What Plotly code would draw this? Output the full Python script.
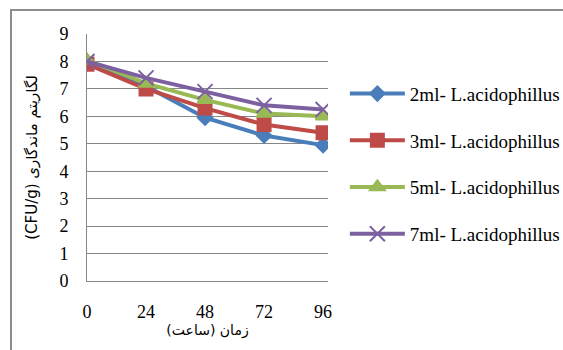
import plotly.graph_objects as go

hours = [0, 24, 48, 72, 96]
ml2 = [7.95, 7.1, 5.95, 5.3, 4.95]
ml3 = [7.9, 7.0, 6.3, 5.7, 5.4]
ml5 = [8.05, 7.2, 6.6, 6.1, 6.0]
ml7 = [8.0, 7.4, 6.9, 6.4, 6.25]
names = ["2ml- L.acidophillus", "3ml- L.acidophillus",
         "5ml- L.acidophillus", "7ml- L.acidophillus"]
yticks = list(range(0, 10))

series = [
    (ml2, "#4a7ebb", "diamond", 11),
    (ml3, "#be4b48", "square", 13),
    (ml5, "#98b954", "triangle-up", 13),
    (ml7, "#7d60a0", "x-thin-open", 15),
]

fig = go.Figure()
for i, ((vals, color, sym, size), name) in enumerate(zip(series, names)):
    fig.add_trace(go.Scatter(
        x=hours, y=vals, name=name, mode="lines+markers",
        legendgroup=f"g{i}",
        line=dict(color=color, width=4),
        marker=dict(symbol=sym, size=size, color=color,
                    line=dict(color=color, width=2)),
    ))

serif = "'Liberation Serif', 'DejaVu Serif', serif"
fa = "'DejaVu Sans', sans-serif"
fig.update_layout(
    width=563, height=350,
    margin=dict(l=87, r=235, t=34, b=69, autoexpand=False),
    paper_bgcolor="white", plot_bgcolor="white",
    font=dict(family=serif, color="black"),
    showlegend=True,
    legend=dict(x=1.07, xanchor="left", y=0.835, yanchor="top",
                font=dict(family=serif, size=19), itemwidth=55,
                tracegroupgap=19, bgcolor="rgba(0,0,0,0)"),
    xaxis=dict(range=[0, 98], tickvals=hours, ticktext=[str(h) for h in hours],
               showgrid=False, zeroline=False, showline=True,
               linecolor="#868686", linewidth=1,
               ticks="", ticklabelstandoff=14,
               tickfont=dict(family=serif, size=18),
               title=dict(text="زمان (ساعت)", standoff=2,
                          font=dict(family=fa, size=14))),
    yaxis=dict(range=[0, 9], tickvals=yticks,
               showgrid=True, gridcolor="#868686", gridwidth=1,
               zeroline=False, showline=True, linecolor="#868686", linewidth=1,
               ticks="", ticklabelstandoff=14,
               tickfont=dict(family=serif, size=18),
               title=dict(text="(CFU/g) لگاریتم ماندگاری", standoff=18,
                          font=dict(family=fa, size=15))),
)

# chart frame, open at the right and bottom edges of the page
fig.add_shape(type="rect", xref="paper", yref="paper",
              x0=-76 / 241, x1=500 / 241, y0=-0.4, y1=1 + 24 / 247,
              line=dict(color="#8c8c8c", width=2), fillcolor="rgba(0,0,0,0)",
              layer="below")

fig.write_html("out.html")
